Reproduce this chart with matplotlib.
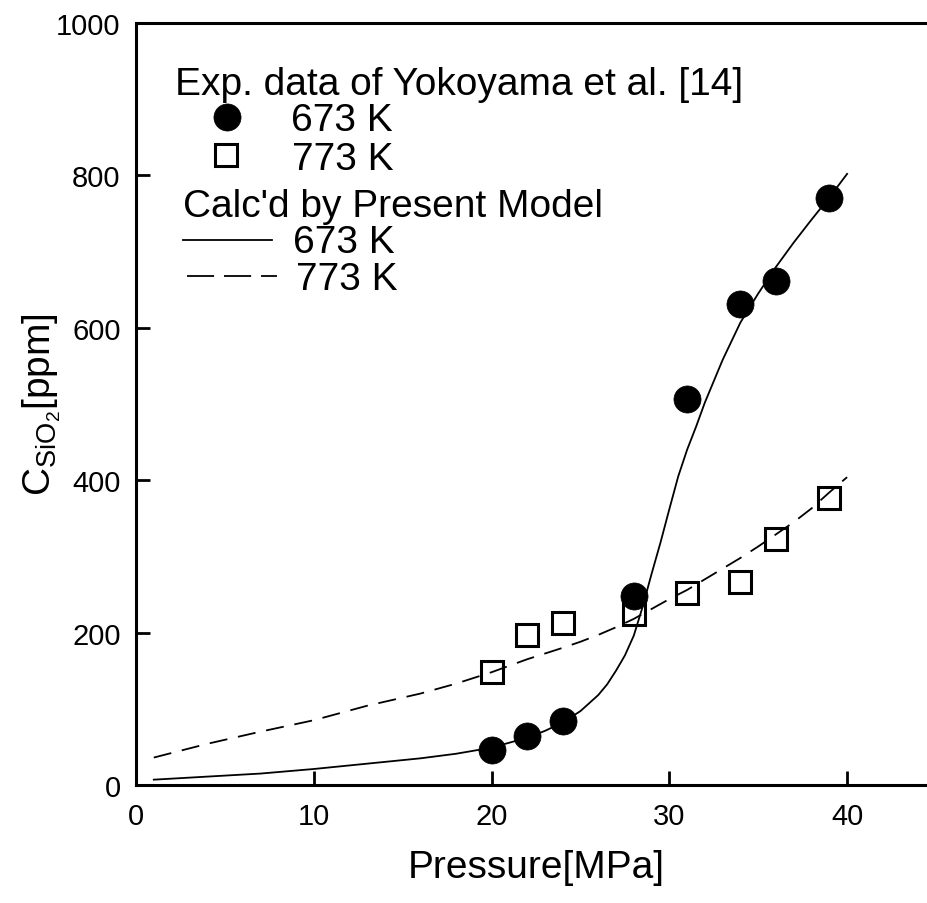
import matplotlib
matplotlib.use("Agg")
import matplotlib.pyplot as plt
from matplotlib.lines import Line2D

plt.rcParams['font.family'] = ['Liberation Sans', 'DejaVu Sans']
plt.rcParams['mathtext.fontset'] = 'custom'
plt.rcParams['mathtext.rm'] = 'Liberation Sans'
plt.rcParams['mathtext.it'] = 'Liberation Sans:italic'

# experimental data (Yokoyama et al.)
p_exp = [20, 22, 24, 28, 31, 34, 36, 39]
c_exp_673 = [46, 64, 84, 248, 507, 631, 661, 770]
c_exp_773 = [148, 197, 212, 224, 252, 266, 323, 377]

# calculated by present model
p_calc_673 = [1, 4, 7, 10, 13, 16, 18, 20, 22, 23, 24, 25, 26, 26.5, 27, 27.5,
              28, 28.5, 29, 29.5, 30, 30.5, 31, 31.5, 32, 32.5, 33, 34, 35, 36,
              37, 38, 39, 40]
c_calc_673 = [7, 11, 15, 21, 28, 35, 41, 49, 62, 71, 82, 97, 118, 132, 150, 170,
              196, 234, 277, 318, 362, 405, 440, 470, 502, 530, 558, 607, 645, 680,
              712, 742, 771, 802]
p_calc_773 = [1, 4, 7, 10, 13, 16, 18, 20, 22, 24, 25, 26, 27, 28, 29, 30, 31,
              32, 33, 34, 35, 36, 37, 38, 39, 40]
c_calc_773 = [36, 54, 70, 85, 104, 120, 133, 148, 165, 180, 188, 197, 207, 218,
              231, 244, 256, 270, 284, 298, 313, 329, 345, 363, 384, 404]

W, H = 928, 904
fig = plt.figure(figsize=(W / 100, H / 100), dpi=100)
ax = fig.add_axes([136 / W, 1 - 786 / H, 800 / W, 762 / H])


def px(x, y):
    # figure pixel (from top-left) -> figure fraction
    return x / W, 1 - y / H


ax.plot(p_calc_673, c_calc_673, color='black', lw=1.3)
ax.plot(p_calc_773, c_calc_773, color='black', lw=1.3, linestyle=(0, (10, 6)))
ax.plot(p_exp, c_exp_673, linestyle='none', marker='o', ms=19.5,
        mfc='black', mec='black', mew=0.5)
ax.plot(p_exp, c_exp_773, linestyle='none', marker='s', ms=15.5,
        mfc='none', mec='black', mew=2.2)

ax.set_xlim(0, 45)
ax.set_ylim(0, 1000)
ax.set_xticks([0, 10, 20, 30, 40])
ax.set_yticks([0, 200, 400, 600, 800, 1000])
ax.tick_params(direction='in', length=10, width=2, labelsize=21)
ax.tick_params(axis='x', pad=12)
ax.tick_params(axis='y', pad=11)
for s in ax.spines.values():
    s.set_linewidth(2.2)

ax.set_xlabel('Pressure[MPa]', fontsize=28, labelpad=14)
ax.set_ylabel(r'C$_{\mathrm{SiO}_2}$[ppm]', fontsize=28, labelpad=-5)

# hand-made legend
fs = 28
fig.text(*px(175, 95), 'Exp. data of Yokoyama et al. [14]', fontsize=fs, va='baseline')
fig.text(*px(291, 131), '673 K', fontsize=fs, va='baseline')
fig.text(*px(292, 170), '773 K', fontsize=fs, va='baseline')
fig.text(*px(183, 217), "Calc'd by Present Model", fontsize=fs, va='baseline')
fig.text(*px(293, 253), '673 K', fontsize=fs, va='baseline')
fig.text(*px(296, 290), '773 K', fontsize=fs, va='baseline')

x0, y0 = px(227, 118)
fig.add_artist(Line2D([x0], [y0], marker='o', ms=19.5, mfc='black', mec='black',
                      mew=0.5, transform=fig.transFigure))
x0, y0 = px(226, 156)
fig.add_artist(Line2D([x0], [y0], marker='s', ms=15.5, mfc='none', mec='black',
                      mew=2.2, transform=fig.transFigure))
xa, ya = px(183, 241)
xb, _ = px(272, 241)
fig.add_artist(Line2D([xa, xb], [ya, ya], color='black', lw=1.3,
                      transform=fig.transFigure))
xa, ya = px(187, 277)
xb, _ = px(277, 277)
fig.add_artist(Line2D([xa, xb], [ya, ya], color='black', lw=1.3,
                      linestyle=(0, (15, 5.5)), transform=fig.transFigure))

fig.savefig('out.png', dpi=100)
